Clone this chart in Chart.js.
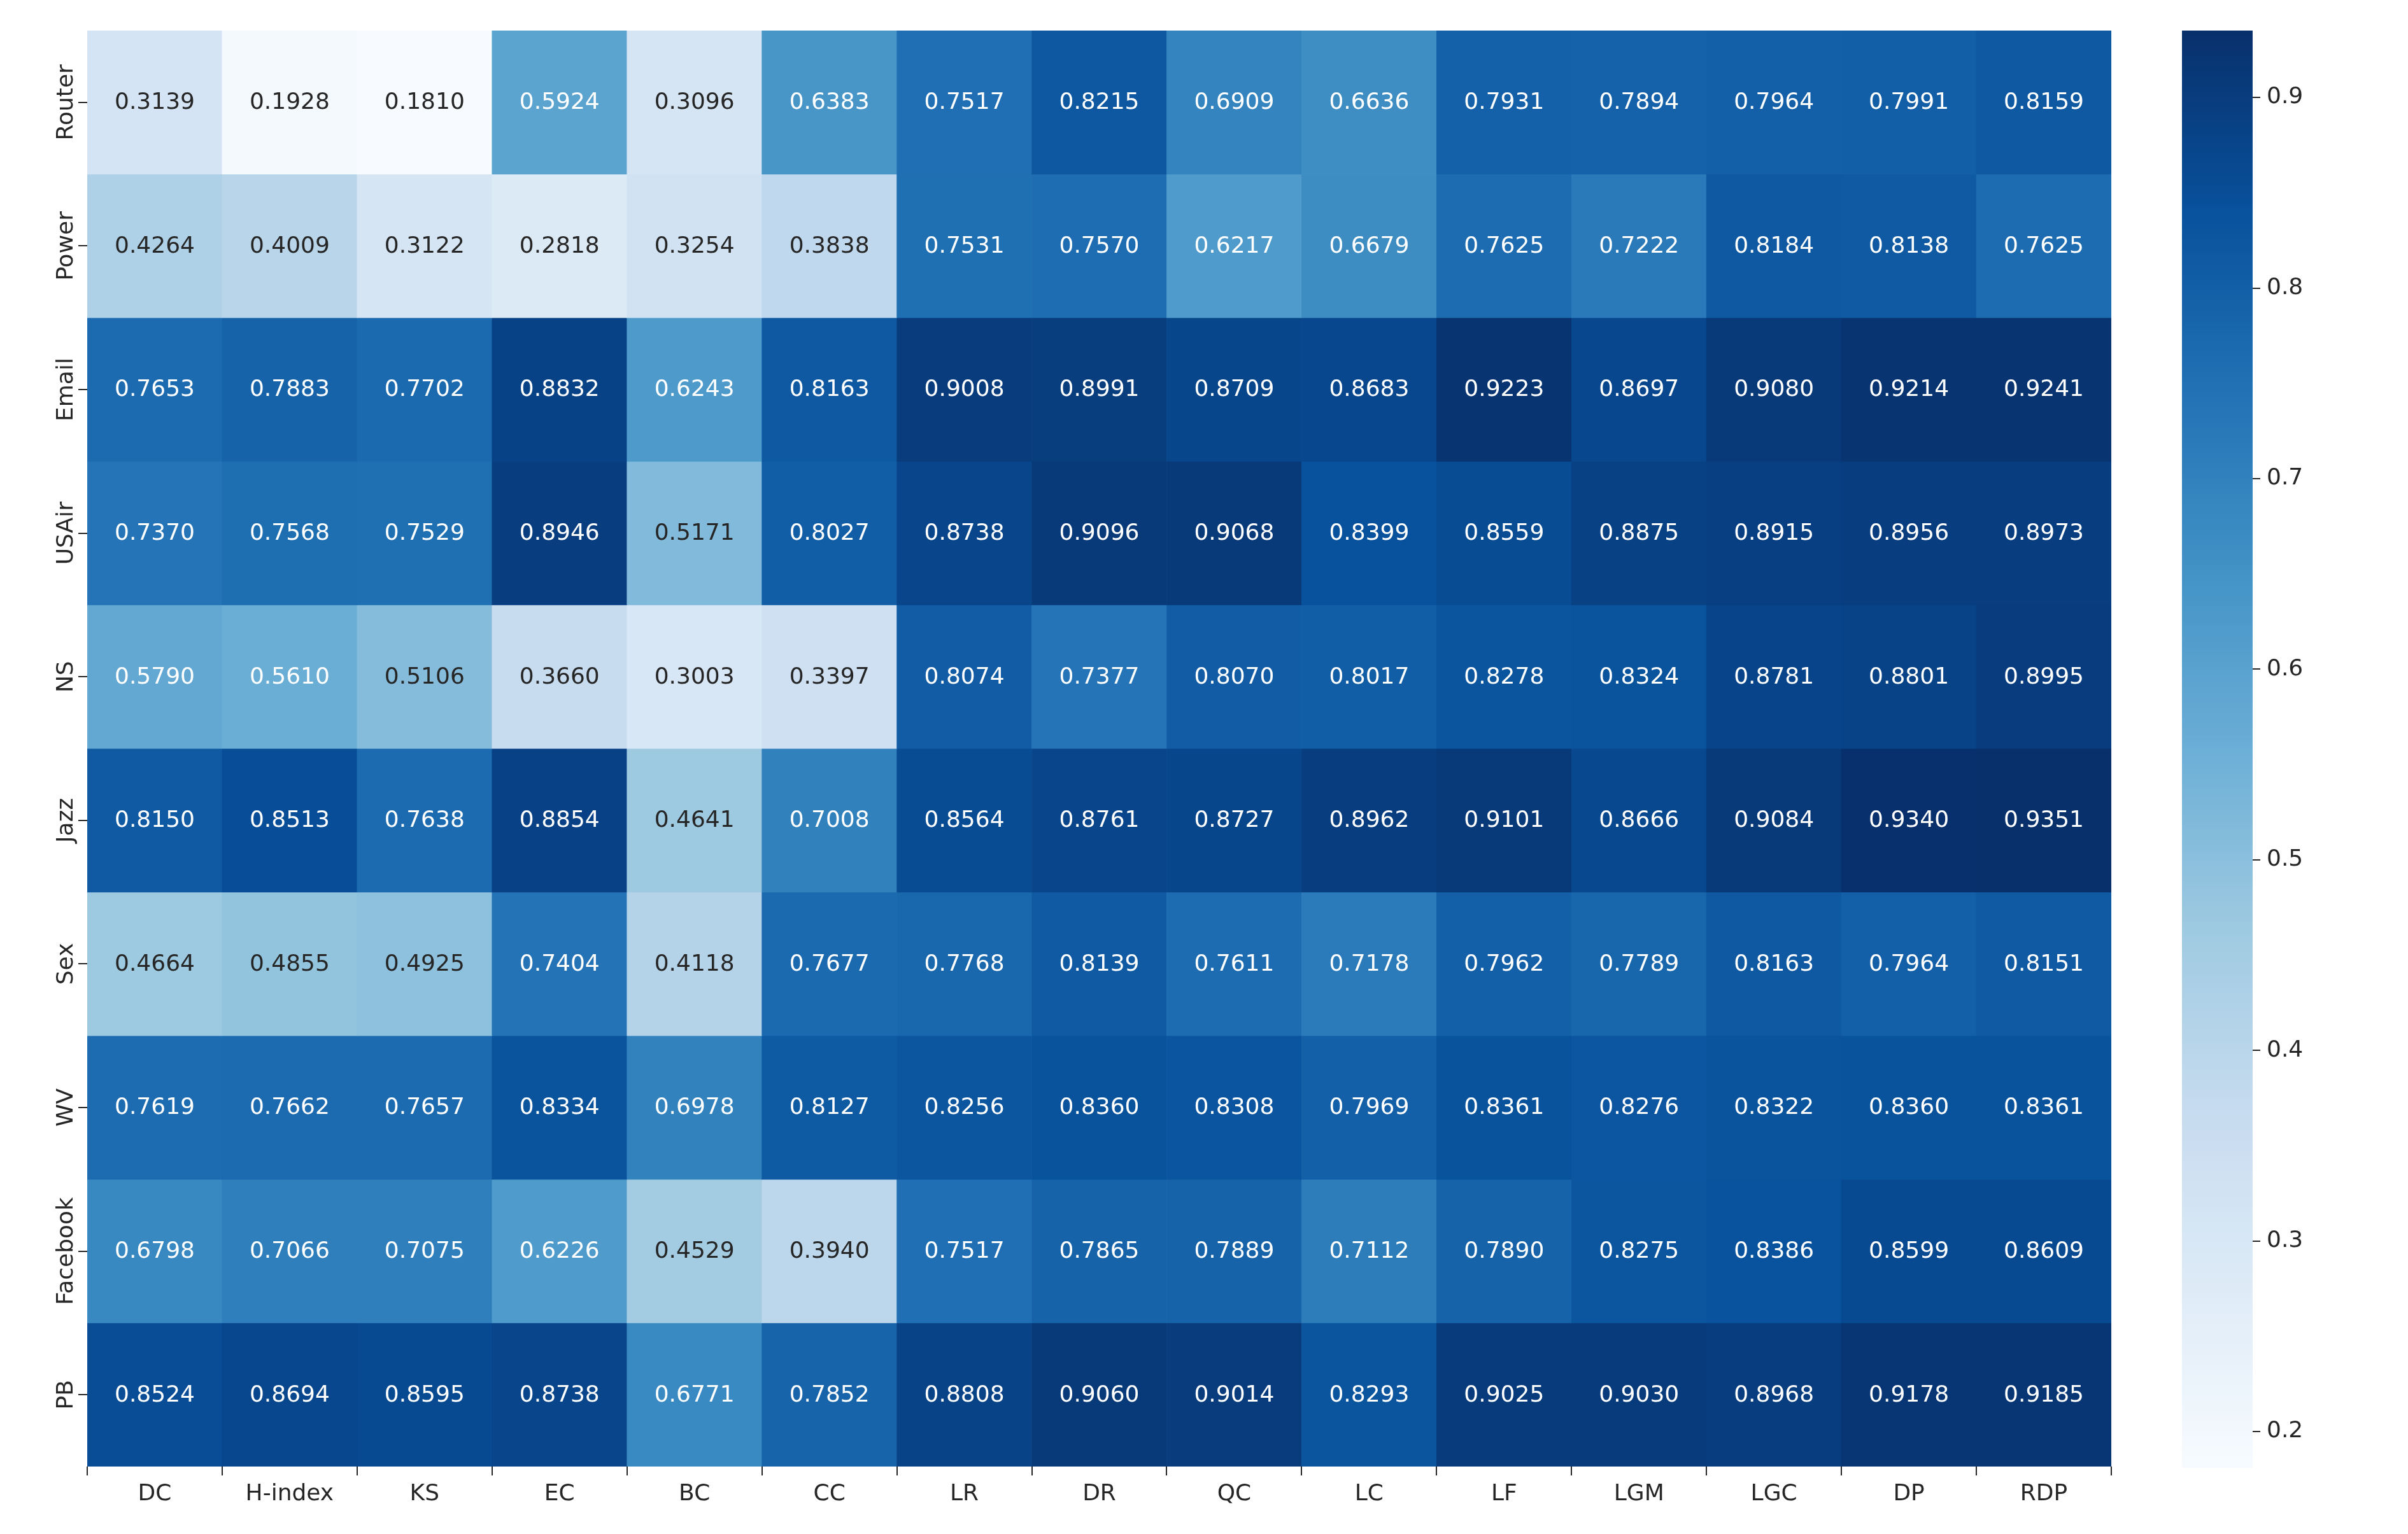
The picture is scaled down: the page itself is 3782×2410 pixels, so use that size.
<!DOCTYPE html>
<html><head><meta charset="utf-8">
<script src="https://cdn.jsdelivr.net/npm/chart.js@4/dist/chart.umd.min.js"></script>
<style>body{margin:0;background:#fff;}#main{position:absolute;left:0;top:0}#cb{position:absolute;left:3427px;top:0}</style>
</head><body>
<canvas id="main" width="3782" height="2410"></canvas>
<canvas id="cb" width="355" height="2410"></canvas>
<script>
const columns=['DC','H-index','KS','EC','BC','CC','LR','DR','QC','LC','LF','LGM','LGC','DP','RDP'];
const rows=['Router','Power','Email','USAir','NS','Jazz','Sex','WV','Facebook','PB'];
const Router=[0.3139,0.1928,0.1810,0.5924,0.3096,0.6383,0.7517,0.8215,0.6909,0.6636,0.7931,0.7894,0.7964,0.7991,0.8159];
const Power=[0.4264,0.4009,0.3122,0.2818,0.3254,0.3838,0.7531,0.7570,0.6217,0.6679,0.7625,0.7222,0.8184,0.8138,0.7625];
const Email=[0.7653,0.7883,0.7702,0.8832,0.6243,0.8163,0.9008,0.8991,0.8709,0.8683,0.9223,0.8697,0.9080,0.9214,0.9241];
const USAir=[0.7370,0.7568,0.7529,0.8946,0.5171,0.8027,0.8738,0.9096,0.9068,0.8399,0.8559,0.8875,0.8915,0.8956,0.8973];
const NS=[0.5790,0.5610,0.5106,0.3660,0.3003,0.3397,0.8074,0.7377,0.8070,0.8017,0.8278,0.8324,0.8781,0.8801,0.8995];
const Jazz=[0.8150,0.8513,0.7638,0.8854,0.4641,0.7008,0.8564,0.8761,0.8727,0.8962,0.9101,0.8666,0.9084,0.9340,0.9351];
const Sex=[0.4664,0.4855,0.4925,0.7404,0.4118,0.7677,0.7768,0.8139,0.7611,0.7178,0.7962,0.7789,0.8163,0.7964,0.8151];
const WV=[0.7619,0.7662,0.7657,0.8334,0.6978,0.8127,0.8256,0.8360,0.8308,0.7969,0.8361,0.8276,0.8322,0.8360,0.8361];
const Facebook=[0.6798,0.7066,0.7075,0.6226,0.4529,0.3940,0.7517,0.7865,0.7889,0.7112,0.7890,0.8275,0.8386,0.8599,0.8609];
const PB=[0.8524,0.8694,0.8595,0.8738,0.6771,0.7852,0.8808,0.9060,0.9014,0.8293,0.9025,0.9030,0.8968,0.9178,0.9185];
const matrix=[Router,Power,Email,USAir,NS,Jazz,Sex,WV,Facebook,PB];
const colorbarTicks=[0.2,0.3,0.4,0.5,0.6,0.7,0.8,0.9];

const vmin=Math.min(...matrix.flat()), vmax=Math.max(...matrix.flat());
const stops=[[247,251,255],[222,235,247],[198,219,239],[158,202,225],[107,174,214],[66,146,198],[33,113,181],[8,81,156],[8,48,107]];
function rgbAt(t){t=Math.max(0,Math.min(1,t));const p=t*8,i=Math.min(7,Math.floor(p)),f=p-i;const a=stops[i],b=stops[i+1];return a.map((v,k)=>Math.round(v+(b[k]-v)*f));}
function colorFor(v){const c=rgbAt((v-vmin)/(vmax-vmin));return `rgb(${c[0]},${c[1]},${c[2]})`;}
function lum(c){const l=c.map(x=>{x/=255;return x<=0.03928?x/12.92:Math.pow((x+0.055)/1.055,2.4)});return 0.2126*l[0]+0.7152*l[1]+0.0722*l[2];}
const FONT='DejaVu Sans';
Chart.defaults.font.family=FONT;
Chart.defaults.color='#262626';

const textPlugin={id:'cellText',afterDatasetsDraw(chart){
  const ctx=chart.ctx;ctx.save();ctx.font=`36px "${FONT}"`;ctx.textAlign='center';ctx.textBaseline='middle';
  chart.data.datasets.forEach((ds,r)=>{chart.getDatasetMeta(r).data.forEach((el,c)=>{
    const v=matrix[r][c];const col=rgbAt((v-vmin)/(vmax-vmin));
    ctx.fillStyle=lum(col)>0.408?'#262626':'#ffffff';
    const y=(el.y+el.base)/2;ctx.fillText(v.toFixed(4),el.x,y+1);});});
  // row labels
  const ys=chart.scales.y;ctx.fillStyle='#262626';
  rows.forEach((name,r)=>{const y=ys.getPixelForValue(r+0.5);ctx.save();ctx.translate(ys.right-32,y);ctx.rotate(-Math.PI/2);ctx.fillText(name,0,0);ctx.restore();});
  ctx.restore();}};

new Chart(document.getElementById('main'),{type:'bar',
 data:{labels:columns,datasets:matrix.map((vals,r)=>({label:rows[r],data:vals.map(()=>[r,r+1]),
   backgroundColor:vals.map(colorFor),borderWidth:0,categoryPercentage:1,barPercentage:1}))},
 options:{responsive:false,devicePixelRatio:1,animation:false,
  layout:{padding:{top:48,right:3782-3316,left:0,bottom:0}},
  plugins:{legend:{display:false},tooltip:{enabled:false}},
  scales:{
   x:{stacked:true,grid:{drawOnChartArea:false,tickLength:14,color:'#262626',lineWidth:2},border:{display:false},
      ticks:{font:{size:36},color:'#262626',padding:8,maxRotation:0},afterFit(s){s.height=106;}},
   y:{stacked:false,min:0,max:10,reverse:true,border:{display:false},
      grid:{drawOnChartArea:false,tickLength:14,color:'#262626',lineWidth:2},
      afterBuildTicks(s){s.ticks=rows.map((_,i)=>({value:i+0.5}));},
      ticks:{callback:()=>''},afterFit(s){s.width=137;}}}},
 plugins:[textPlugin]});

new Chart(document.getElementById('cb'),{type:'bar',
 data:{labels:[''],datasets:[{data:[[vmin,vmax]],borderWidth:0,categoryPercentage:1,barPercentage:1,
   backgroundColor(ctx){const ch=ctx.chart,a=ch.chartArea;if(!a)return '#08306b';
     const g=ch.ctx.createLinearGradient(0,a.bottom,0,a.top);for(let i=0;i<=40;i++){const c=rgbAt(i/40);g.addColorStop(i/40,`rgb(${c})`);}return g;}}]},
 options:{responsive:false,devicePixelRatio:1,animation:false,
  layout:{padding:{top:48,bottom:104,left:0,right:0}},
  plugins:{legend:{display:false},tooltip:{enabled:false}},
  scales:{x:{display:false},
   y:{position:'right',min:vmin,max:vmax,border:{display:false},
      grid:{drawOnChartArea:false,tickLength:12,color:'#262626',lineWidth:2},
      afterBuildTicks(s){s.ticks=colorbarTicks.map(v=>({value:v}));},
      ticks:{font:{size:36},color:'#262626',padding:10,callback:v=>v.toFixed(1)},
      afterFit(s){s.width=355-111;}}}}});
</script></body></html>
